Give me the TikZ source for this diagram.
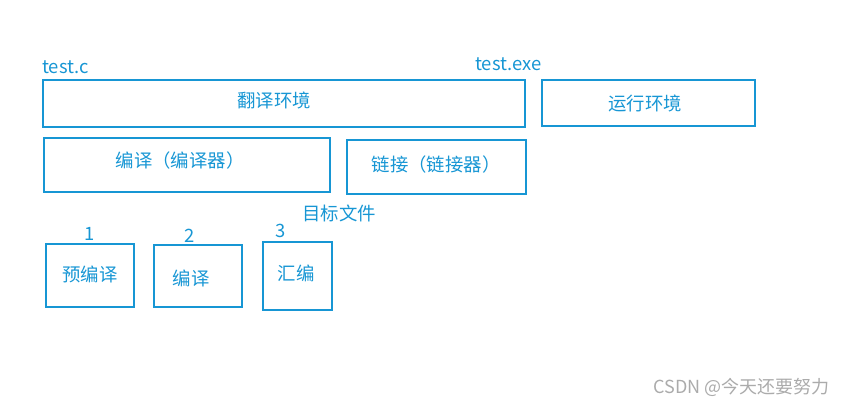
\documentclass[tikz,border=0pt]{standalone}
\usepackage{fontspec}
\setmainfont{Noto Sans CJK SC}
\definecolor{lineblue}{HTML}{1796D4}
\definecolor{wmgray}{HTML}{ABABAB}
\begin{document}
\begin{tikzpicture}[x=1pt,y=-1pt,
  box/.style={draw=lineblue,line width=1.6pt},
  lbl/.style={text=lineblue,font=\fontsize{18.4}{20}\selectfont,inner sep=0pt},
]
\useasboundingbox (0,0) rectangle (845,407);
% boxes
\draw[box] (43,80) rectangle (525,127);
\node[lbl] (fy) at (274,100) {翻译环境};
\draw[box] (542,80) rectangle (755,126);
\node[lbl] (yx) at (645,103) {运行环境};
\draw[box] (44,138) rectangle (330,192);
\node[lbl] (by) at (180,161) {编译（编译器）};
\draw[box] (347,140) rectangle (526,194);
\node[lbl] (lj) at (436,165) {链接（链接器）};
\draw[box] (46,244) rectangle (134,307);
\node[lbl] (yby) at (90,274) {预编译};
\draw[box] (154,245) rectangle (242,307);
\node[lbl] (byy) at (191,278) {编译};
\draw[box] (263,242) rectangle (332,310);
\node[lbl] (hb) at (296,273) {汇编};
% labels
\node[lbl,anchor=west] (tc) at (42,67) {test.c};
\node[lbl,anchor=west] (te) at (475,64) {test.exe};
\node[lbl] (mb) at (339,213) {目标文件};
\node[lbl] (n1) at (90,234) {1};
\node[lbl] (n2) at (190,236) {2};
\node[lbl] (n3) at (281,231) {3};
\node[text=wmgray,font=\fontsize{18}{20}\selectfont,inner sep=0pt,anchor=east] (wm) at (830,387) {CSDN @今天还要努力};
\end{tikzpicture}
\end{document}
